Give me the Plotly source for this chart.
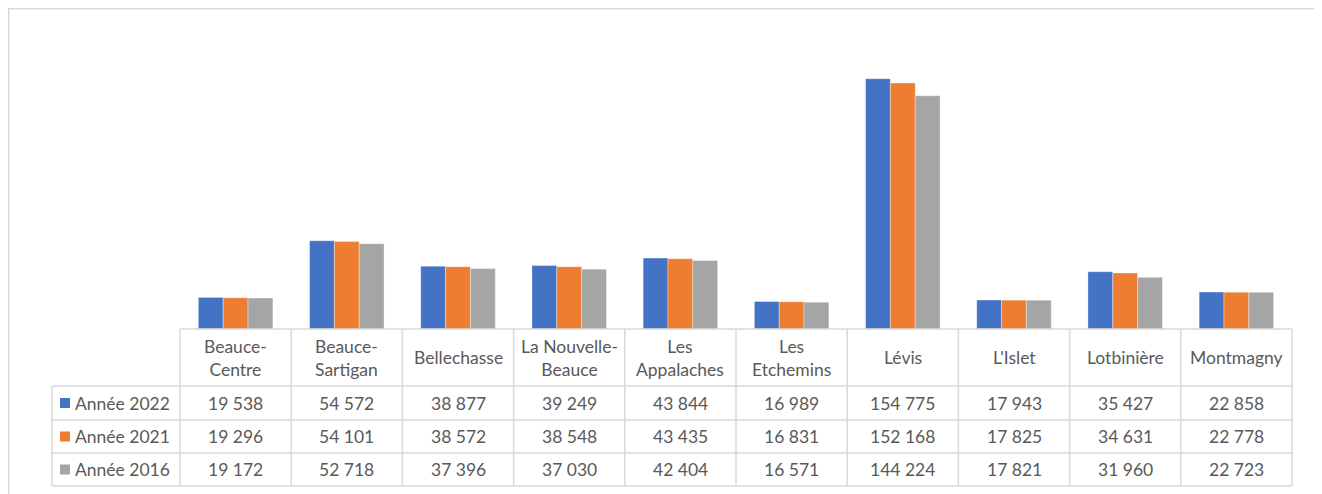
import plotly.graph_objects as go

categories = ["Beauce-Centre", "Beauce-Sartigan", "Bellechasse", "La Nouvelle-Beauce",
              "Les Appalaches", "Les Etchemins", "Lévis", "L'Islet", "Lotbinière", "Montmagny"]
header_labels = ["Beauce-<br>Centre", "Beauce-<br>Sartigan", "Bellechasse", "La Nouvelle-<br>Beauce",
                 "Les<br>Appalaches", "Les<br>Etchemins", "Lévis", "L'Islet", "Lotbinière", "Montmagny"]
series_names = ["Année 2022", "Année 2021", "Année 2016"]
values_2022 = [19538, 54572, 38877, 39249, 43844, 16989, 154775, 17943, 35427, 22858]
values_2021 = [19296, 54101, 38572, 38548, 43435, 16831, 152168, 17825, 34631, 22778]
values_2016 = [19172, 52718, 37396, 37030, 42404, 16571, 144224, 17821, 31960, 22723]
colors = ["#4472C4", "#ED7D31", "#A5A5A5"]

all_series = [values_2022, values_2021, values_2016]

# page has an 8px body margin: figure is placed at (8, 8)
OFF = 8
W, H = 1322 - OFF, 494 - OFF
ML, MR, MT, MB = 180 - OFF, 30, 38 - OFF, 165
PW, PH = W - ML - MR, H - MT - MB

def px_x(p):  # p: page pixel
    return (p - OFF - ML) / PW

def px_y(p):
    return (H - MB - (p - OFF)) / PH

FONT = "Lato"
TXT = "#595959"
GRID = "#d9d9d9"
FS = 17.5

fig = go.Figure()
x_idx = list(range(len(categories)))
for name, vals, col in zip(series_names, all_series, colors):
    fig.add_trace(go.Bar(x=x_idx, y=vals, name=name,
                         marker=dict(color=col, line=dict(color="rgba(255,255,255,0.35)", width=1))))

shapes = []
annotations = []

# chart border
shapes.append(dict(type="rect", xref="paper", yref="paper",
                   x0=px_x(8.7), x1=px_x(1318), y0=px_y(520), y1=px_y(8.7),
                   line=dict(color=GRID, width=1.5), fillcolor="rgba(0,0,0,0)", layer="below"))

# table geometry (page pixels)
row_edges = [OFF + MT + PH, 386, 420, 453, 486]
leg_left = 52

def cat_boundary(k):
    return k / len(categories)  # paper position of category boundary k

# horizontal lines
shapes.append(dict(type="line", xref="paper", yref="paper", x0=0, x1=1,
                   y0=px_y(row_edges[0]), y1=px_y(row_edges[0]), line=dict(color=GRID, width=1.5)))
for r in row_edges[1:]:
    shapes.append(dict(type="line", xref="paper", yref="paper", x0=px_x(leg_left), x1=1,
                       y0=px_y(r), y1=px_y(r), line=dict(color=GRID, width=1.5)))
# vertical lines
for k in range(len(categories) + 1):
    xb = cat_boundary(k)
    shapes.append(dict(type="line", xref="paper", yref="paper", x0=xb, x1=xb,
                       y0=px_y(row_edges[0]), y1=px_y(row_edges[-1]), line=dict(color=GRID, width=1.5)))
shapes.append(dict(type="line", xref="paper", yref="paper", x0=px_x(leg_left), x1=px_x(leg_left),
                   y0=px_y(row_edges[1]), y1=px_y(row_edges[-1]), line=dict(color=GRID, width=1.5)))

# header labels
hc = (row_edges[0] + row_edges[1]) / 2
for i, lab in enumerate(header_labels):
    annotations.append(dict(x=i, y=px_y(hc), xref="x", yref="paper", text=lab, showarrow=False,
                            xanchor="center", yanchor="middle", align="center",
                            font=dict(family=FONT, size=FS, color=TXT)))

def fmt(v):
    return f"{v:,}".replace(",", " ")

for r, (name, vals, col) in enumerate(zip(series_names, all_series, colors)):
    cy = (row_edges[r + 1] + row_edges[r + 2]) / 2
    for i, v in enumerate(vals):
        annotations.append(dict(x=i, y=px_y(cy), xref="x", yref="paper", text=fmt(v), showarrow=False,
                                xanchor="center", yanchor="middle",
                                font=dict(family=FONT, size=FS, color=TXT)))
    # legend key
    shapes.append(dict(type="rect", xref="paper", yref="paper", x0=px_x(60), x1=px_x(70),
                       y0=px_y(cy + 5), y1=px_y(cy - 5), fillcolor=col, line=dict(width=0)))
    annotations.append(dict(x=px_x(73), y=px_y(cy), xref="paper", yref="paper", text=name,
                            showarrow=False, xanchor="left", yanchor="middle",
                            font=dict(family=FONT, size=FS, color=TXT)))

fig.update_layout(
    width=W, height=H,
    margin=dict(l=ML, r=MR, t=MT, b=MB, pad=0),
    paper_bgcolor="white", plot_bgcolor="white",
    barmode="group", bargap=0.33, bargroupgap=0,
    showlegend=False,
    xaxis=dict(visible=False, range=[-0.5, len(categories) - 0.5]),
    yaxis=dict(visible=False, range=[0, 180000]),
    shapes=shapes, annotations=annotations,
)

fig.write_html("out.html")
